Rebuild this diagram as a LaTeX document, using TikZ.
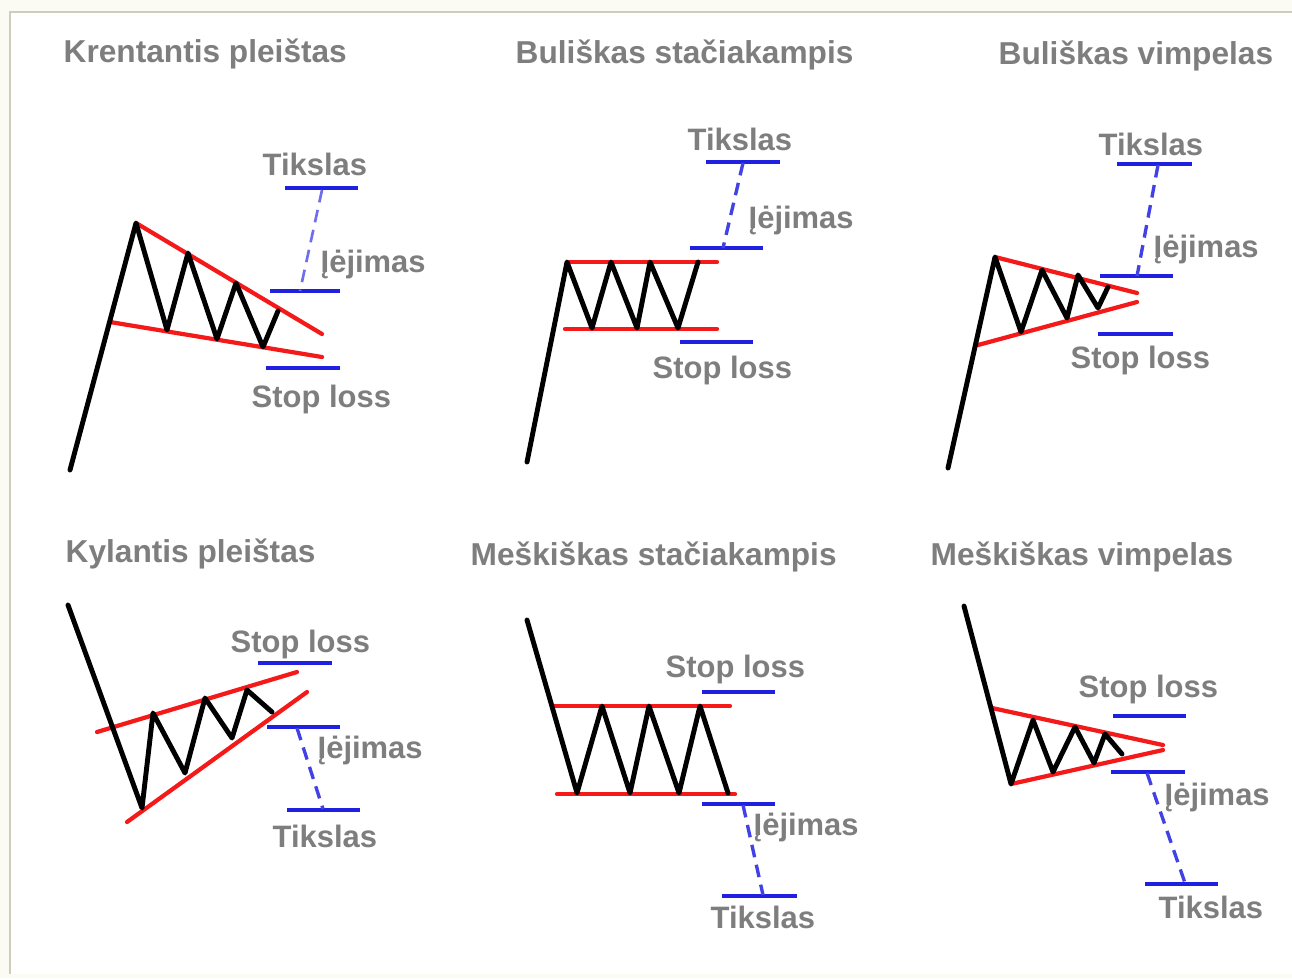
\documentclass[tikz,border=0pt]{standalone}
\usepackage{fontspec}
\setmainfont{Liberation Sans}
\begin{document}
\begin{tikzpicture}[x=0.01cm,y=-0.01cm,
  price/.style={line width=1.4pt,black,line join=round,line cap=round},
  trend/.style={line width=1.2pt,color=trendred,line cap=round},
  bar/.style={line width=1.05pt,color=barblue},
  link/.style={line width=0.95pt,color=barblue!85,dash pattern=on 3.6pt off 2.2pt},
  ttl/.style={anchor=base west,inner sep=0pt,text=txtgray,font=\fontsize{9}{11}\selectfont\bfseries},
  lbl/.style={anchor=base west,inner sep=0pt,text=txtgray,font=\fontsize{8.8}{11}\selectfont\bfseries}]
\definecolor{trendred}{HTML}{F41A1A}
\definecolor{barblue}{HTML}{2020E0}
\definecolor{txtgray}{HTML}{7E7E7E}
\definecolor{outer}{HTML}{FBFBF3}
\definecolor{frame}{HTML}{CDCDB8}
\useasboundingbox (0,0) rectangle (1292,978);
\fill[outer] (0,0) rectangle (1292,978);
\fill[white] (10,12) rectangle (1292,974);
\draw[frame,line width=0.6pt] (10,974) -- (10,12) -- (1292,12);

% ---------- Panel 1: Krentantis pleistas ----------
\node[ttl] (t1) at (63,62) {Krentantis pleištas};
\coordinate (a0) at (70,470);
\coordinate (a1) at (136,223);
\coordinate (a2) at (167,330);
\coordinate (a3) at (188,253);
\coordinate (a4) at (217,339);
\coordinate (a5) at (236,283);
\coordinate (a6) at (263,347);
\coordinate (a7) at (278,311);
\coordinate (au) at (322,334);
\coordinate (ls) at (110,322);
\coordinate (le) at (322,357);
\draw[trend] (a1) -- (au);
\draw[trend] (ls) -- (le);
\draw[price] (a0) -- (a1) -- (a2) -- (a3) -- (a4) -- (a5) -- (a6) -- (a7);
\coordinate (ta) at (285,188); \coordinate (tb) at (358,188);
\coordinate (ea) at (270,291); \coordinate (eb) at (340,291);
\coordinate (sa) at (266,368); \coordinate (sb) at (340,368);
\draw[bar] (ta) -- (tb);
\draw[bar] (ea) -- (eb);
\draw[bar] (sa) -- (sb);
\coordinate (tm1) at (322,190); \coordinate (em1) at (300,291);
\draw[link,line width=0.75pt,color=barblue!65] (tm1) -- (em1);
\node[lbl] (p1t) at (262,175) {Tikslas};
\node[lbl] (p1e) at (320,272) {Įėjimas};
\node[lbl] (p1s) at (251,407) {Stop loss};

% ---------- Panel 2: Buliskas staciakampis ----------
\node[ttl] (t2) at (515,63) {Buliškas stačiakampis};
\coordinate (b0) at (527,462);
\coordinate (b1) at (567,262);
\coordinate (b2) at (592,328);
\coordinate (b3) at (611,262);
\coordinate (b4) at (637,328);
\coordinate (b5) at (650,262);
\coordinate (b6) at (678,328);
\coordinate (b7) at (698,262);
\coordinate (bu) at (717,262);
\coordinate (bls) at (565,329);
\coordinate (ble) at (717,329);
\draw[trend] (b1) -- (bu);
\draw[trend] (bls) -- (ble);
\draw[price] (b0) -- (b1) -- (b2) -- (b3) -- (b4) -- (b5) -- (b6) -- (b7);
\coordinate (t2a) at (706,162); \coordinate (t2b) at (780,162);
\coordinate (e2a) at (690,248); \coordinate (e2b) at (763,248);
\coordinate (s2a) at (680,342); \coordinate (s2b) at (753,342);
\draw[bar] (t2a) -- (t2b);
\draw[bar] (e2a) -- (e2b);
\draw[bar] (s2a) -- (s2b);
\coordinate (tm2) at (743,163); \coordinate (em2) at (723,248);
\draw[link] (tm2) -- (em2);
\node[lbl] (p2t) at (687,150) {Tikslas};
\node[lbl] (p2e) at (748,228) {Įėjimas};
\node[lbl] (p2s) at (652,378) {Stop loss};

% ---------- Panel 3: Buliskas vimpelas ----------
\node[ttl] (t3) at (998,64) {Buliškas vimpelas};
\coordinate (c0) at (948,468);
\coordinate (c1) at (995,257);
\coordinate (c2) at (1021,332);
\coordinate (c3) at (1042,270);
\coordinate (c4) at (1067,318);
\coordinate (c5) at (1078,275);
\coordinate (c6) at (1098,308);
\coordinate (c7) at (1108,287);
\coordinate (cu) at (1137,293);
\coordinate (cls) at (978,345);
\coordinate (cle) at (1137,302);
\draw[trend] (c1) -- (cu);
\draw[trend] (cls) -- (cle);
\draw[price] (c0) -- (c1) -- (c2) -- (c3) -- (c4) -- (c5) -- (c6) -- (c7);
\coordinate (t3a) at (1117,164); \coordinate (t3b) at (1192,164);
\coordinate (e3a) at (1100,276); \coordinate (e3b) at (1173,276);
\coordinate (s3a) at (1098,334); \coordinate (s3b) at (1173,334);
\draw[bar] (t3a) -- (t3b);
\draw[bar] (e3a) -- (e3b);
\draw[bar] (s3a) -- (s3b);
\coordinate (tm3) at (1158,165); \coordinate (em3) at (1137,276);
\draw[link] (tm3) -- (em3);
\node[lbl] (p3t) at (1098,155) {Tikslas};
\node[lbl] (p3e) at (1153,257) {Įėjimas};
\node[lbl] (p3s) at (1070,368) {Stop loss};

% ---------- Panel 4: Kylantis pleistas ----------
\node[ttl] (t4) at (65,562) {Kylantis pleištas};
\coordinate (d0) at (68,605);
\coordinate (d1) at (142,808);
\coordinate (d2) at (153,713);
\coordinate (d3) at (185,773);
\coordinate (d4) at (205,698);
\coordinate (d5) at (232,738);
\coordinate (d6) at (247,690);
\coordinate (d7) at (272,712);
\coordinate (dus) at (97,732);
\coordinate (due) at (297,672);
\coordinate (dls) at (127,822);
\coordinate (dle) at (307,692);
\draw[trend] (dus) -- (due);
\draw[trend] (dls) -- (dle);
\draw[price] (d0) -- (d1) -- (d2) -- (d3) -- (d4) -- (d5) -- (d6) -- (d7);
\coordinate (s4a) at (258,663); \coordinate (s4b) at (332,663);
\coordinate (e4a) at (267,727); \coordinate (e4b) at (340,727);
\coordinate (t4a) at (287,810); \coordinate (t4b) at (360,810);
\draw[bar] (s4a) -- (s4b);
\draw[bar] (e4a) -- (e4b);
\draw[bar] (t4a) -- (t4b);
\coordinate (em4) at (297,728); \coordinate (tm4) at (323,809);
\draw[link] (em4) -- (tm4);
\node[lbl] (p4s) at (230,652) {Stop loss};
\node[lbl] (p4e) at (317,758) {Įėjimas};
\node[lbl] (p4t) at (272,847) {Tikslas};

% ---------- Panel 5: Meskiskas staciakampis ----------
\node[ttl] (t5) at (470,565) {Meškiškas stačiakampis};
\coordinate (f0) at (527,620);
\coordinate (f1) at (577,793);
\coordinate (f2) at (602,706);
\coordinate (f3) at (630,793);
\coordinate (f4) at (649,706);
\coordinate (f5) at (679,793);
\coordinate (f6) at (700,706);
\coordinate (f7) at (728,793);
\coordinate (fus) at (553,706);
\coordinate (fue) at (730,706);
\coordinate (fls) at (557,794);
\coordinate (fle) at (735,794);
\draw[trend] (fus) -- (fue);
\draw[trend] (fls) -- (fle);
\draw[price] (f0) -- (f1) -- (f2) -- (f3) -- (f4) -- (f5) -- (f6) -- (f7);
\coordinate (s5a) at (702,692); \coordinate (s5b) at (775,692);
\coordinate (e5a) at (702,804); \coordinate (e5b) at (775,804);
\coordinate (t5a) at (722,896); \coordinate (t5b) at (797,896);
\draw[bar] (s5a) -- (s5b);
\draw[bar] (e5a) -- (e5b);
\draw[bar] (t5a) -- (t5b);
\coordinate (em5) at (743,805); \coordinate (tm5) at (763,895);
\draw[link] (em5) -- (tm5);
\node[lbl] (p5s) at (665,677) {Stop loss};
\node[lbl] (p5e) at (753,835) {Įėjimas};
\node[lbl] (p5t) at (710,928) {Tikslas};

% ---------- Panel 6: Meskiskas vimpelas ----------
\node[ttl] (t6) at (930,565) {Meškiškas vimpelas};
\coordinate (g0) at (964,606);
\coordinate (g1) at (1011,784);
\coordinate (g2) at (1033,720);
\coordinate (g3) at (1053,772);
\coordinate (g4) at (1075,727);
\coordinate (g5) at (1094,763);
\coordinate (g6) at (1105,734);
\coordinate (g7) at (1122,754);
\coordinate (gus) at (992,708);
\coordinate (gue) at (1163,745);
\coordinate (gle) at (1163,750);
\draw[trend] (gus) -- (gue);
\draw[trend] (g1) -- (gle);
\draw[price] (g0) -- (g1) -- (g2) -- (g3) -- (g4) -- (g5) -- (g6) -- (g7);
\coordinate (s6a) at (1113,716); \coordinate (s6b) at (1186,716);
\coordinate (e6a) at (1111,772); \coordinate (e6b) at (1185,772);
\coordinate (t6a) at (1145,884); \coordinate (t6b) at (1218,884);
\draw[bar] (s6a) -- (s6b);
\draw[bar] (e6a) -- (e6b);
\draw[bar] (t6a) -- (t6b);
\coordinate (em6) at (1147,773); \coordinate (tm6) at (1185,883);
\draw[link] (em6) -- (tm6);
\node[lbl] (p6s) at (1078,697) {Stop loss};
\node[lbl] (p6e) at (1164,805) {Įėjimas};
\node[lbl] (p6t) at (1158,918) {Tikslas};
\end{tikzpicture}
\end{document}
